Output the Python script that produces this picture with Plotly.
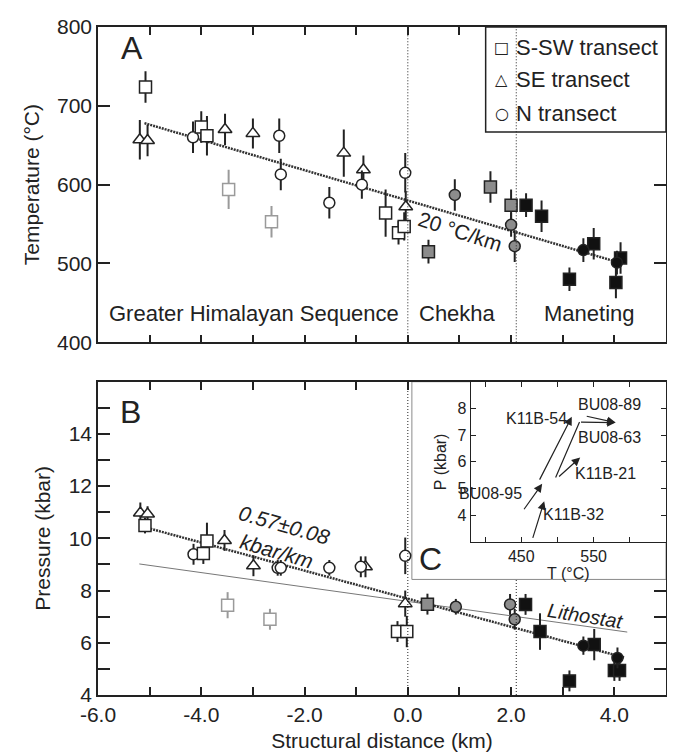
import plotly.graph_objects as go

FONT = "Liberation Sans, Arial, sans-serif"
SYMFONT = "DejaVu Sans, sans-serif"
INK = "#222222"

# ---------------- Panel A : temperature (°C) ----------------
A_SSW_WHITE_X = [-5.08, -4.00, -3.89, -0.43, -0.18, -0.07]
A_SSW_WHITE_T = [724, 673, 662, 564, 539, 547]
A_SSW_WHITE_E = [20, 20, 25, 30, 15, 18]
A_SSW_LIGHT_X = [-3.47, -2.64]
A_SSW_LIGHT_T = [594, 553]
A_SSW_LIGHT_E = [25, 20]
A_SSW_GRAY_X = [0.40, 1.60, 2.00]
A_SSW_GRAY_T = [515, 597, 574]
A_SSW_GRAY_E = [15, 20, 20]
A_SSW_BLACK_X = [2.29, 2.59, 3.13, 3.60, 4.03, 4.12]
A_SSW_BLACK_T = [574, 560, 480, 525, 476, 507]
A_SSW_BLACK_E = [15, 20, 15, 20, 20, 20]
A_SE_X = [-5.19, -5.04, -3.54, -3.00, -1.24, -0.86, -0.04]
A_SE_T = [657, 656, 670, 665, 640, 619, 572]
A_SE_E = [25, 20, 20, 19, 30, 18, 20]
A_N_WHITE_X = [-4.16, -2.49, -2.46, -1.52, -0.89, -0.05]
A_N_WHITE_T = [660, 662, 613, 577, 600, 615]
A_N_WHITE_E = [20, 22, 20, 20, 18, 25]
A_N_GRAY_X = [0.91, 2.00, 2.07]
A_N_GRAY_T = [587, 549, 522]
A_N_GRAY_E = [20, 15, 20]
A_N_BLACK_X = [3.40, 4.05]
A_N_BLACK_T = [517, 501]
A_N_BLACK_E = [15, 15]
A_FIT_X = [-5.1, 4.1]
A_FIT_T = [678, 501]

# ---------------- Panel B : pressure (kbar) ----------------
B_SSW_WHITE_X = [-5.09, -3.89, -3.96, -0.20, -0.02]
B_SSW_WHITE_P = [10.49, 9.90, 9.42, 6.43, 6.43]
B_SSW_WHITE_E = [0.30, 0.70, 0.40, 0.40, 0.60]
B_SSW_LIGHT_X = [-3.49, -2.67]
B_SSW_LIGHT_P = [7.44, 6.90]
B_SSW_LIGHT_E = [0.50, 0.40]
B_SSW_GRAY_X = [0.38]
B_SSW_GRAY_P = [7.48]
B_SSW_GRAY_E = [0.40]
B_SSW_BLACK_X = [2.28, 2.56, 3.13, 3.61, 4.00, 4.10]
B_SSW_BLACK_P = [7.47, 6.43, 4.54, 5.93, 4.94, 4.94]
B_SSW_BLACK_E = [0.40, 0.70, 0.40, 0.60, 0.40, 0.40]
B_SE_X = [-5.18, -5.04, -3.55, -2.99, -0.82, -0.05]
B_SE_P = [10.97, 10.93, 9.92, 8.95, 8.91, 7.50]
B_SE_E = [0.40, 0.30, 0.40, 0.40, 0.40, 0.50]
B_N_WHITE_X = [-4.15, -2.52, -2.46, -1.52, -0.91, -0.05]
B_N_WHITE_P = [9.39, 8.87, 8.87, 8.87, 8.91, 9.33]
B_N_WHITE_E = [0.40, 0.30, 0.30, 0.30, 0.40, 0.70]
B_N_GRAY_X = [0.93, 1.98, 2.07]
B_N_GRAY_P = [7.38, 7.47, 6.90]
B_N_GRAY_E = [0.30, 0.40, 0.40]
B_N_BLACK_X = [3.40, 4.06]
B_N_BLACK_P = [5.89, 5.42]
B_N_BLACK_E = [0.35, 0.40]
B_FIT_X = [-5.1, 4.2]
B_FIT_P = [10.43, 5.43]
LITHO_X = [-5.2, 4.25]
LITHO_P = [9.02, 6.41]

BOUNDARY_X = [0.0, 2.1]
UNIT_NAMES = ["Greater Himalayan Sequence", "Chekha", "Maneting"]
UNIT_X = [-2.97, 0.96, 3.52]
UNIT_T = [436, 436, 436]

LEGEND_NAMES = ["S-SW transect", "SE transect", "N transect"]
LEGEND_GLYPHS = ["□", "△", "○"]

# ---------------- Inset C : P-T paths ----------------
PATH_NAMES = ["K11B-32", "BU08-95", "K11B-54", "K11B-21", "BU08-63", "BU08-89"]
PATH_T0 = [465.3, 452.4, 474.3, 500.2, 530.5, 538.4]
PATH_P0 = [3.10, 4.17, 5.28, 5.40, 7.49, 7.72]
PATH_T1 = [481.7, 478.9, 519.8, 531.4, 580.3, 580.3]
PATH_P1 = [4.53, 5.18, 7.69, 6.16, 7.47, 7.47]
SEG_T0 = [496.6]   # first (headless) leg of BU08-63
SEG_P0 = [5.36]
SEG_T1 = [530.5]
SEG_P1 = [7.49]
LABEL_T = [522, 408, 471, 566, 572, 572]
LABEL_P = [4.04, 4.81, 7.63, 5.55, 6.90, 8.16]

fig = go.Figure()

STY = {
    "white": dict(fill="white", edge=INK, err=INK),
    "light": dict(fill="white", edge="#9a9a9a", err="#9a9a9a"),
    "gray": dict(fill="#8c8c8c", edge=INK, err=INK),
    "black": dict(fill="#111111", edge=INK, err=INK),
}
SYM = {"square": ("square", 12), "tri": ("triangle-up", 12), "circle": ("circle", 11)}


def pts(x, y, e, shape, style, xa, ya):
    s = STY[style]
    sym, size = SYM[shape]
    fig.add_trace(go.Scatter(
        x=x, y=y, mode="markers", xaxis=xa, yaxis=ya,
        marker=dict(symbol=sym, size=size, color=s["fill"],
                    line=dict(color=s["edge"], width=1.5)),
        error_y=dict(type="data", array=e, visible=True, color=s["err"],
                     thickness=2, width=0),
        showlegend=False, hoverinfo="skip", cliponaxis=False))


# fit lines
fig.add_trace(go.Scatter(x=A_FIT_X, y=A_FIT_T, mode="lines", xaxis="x", yaxis="y",
                         line=dict(color="#333", width=2.5, dash="2px,1px"),
                         showlegend=False, hoverinfo="skip"))
fig.add_trace(go.Scatter(x=LITHO_X, y=LITHO_P, mode="lines", xaxis="x2", yaxis="y2",
                         line=dict(color="#777", width=1),
                         showlegend=False, hoverinfo="skip"))
fig.add_trace(go.Scatter(x=B_FIT_X, y=B_FIT_P, mode="lines", xaxis="x2", yaxis="y2",
                         line=dict(color="#333", width=2.5, dash="2px,1px"),
                         showlegend=False, hoverinfo="skip"))

# panel A points
pts(A_SSW_LIGHT_X, A_SSW_LIGHT_T, A_SSW_LIGHT_E, "square", "light", "x", "y")
pts(A_SE_X, A_SE_T, A_SE_E, "tri", "white", "x", "y")
pts(A_N_WHITE_X, A_N_WHITE_T, A_N_WHITE_E, "circle", "white", "x", "y")
pts(A_SSW_WHITE_X, A_SSW_WHITE_T, A_SSW_WHITE_E, "square", "white", "x", "y")
pts(A_SSW_GRAY_X, A_SSW_GRAY_T, A_SSW_GRAY_E, "square", "gray", "x", "y")
pts(A_N_GRAY_X, A_N_GRAY_T, A_N_GRAY_E, "circle", "gray", "x", "y")
pts(A_SSW_BLACK_X, A_SSW_BLACK_T, A_SSW_BLACK_E, "square", "black", "x", "y")
pts(A_N_BLACK_X, A_N_BLACK_T, A_N_BLACK_E, "circle", "black", "x", "y")

# panel B points
pts(B_SSW_LIGHT_X, B_SSW_LIGHT_P, B_SSW_LIGHT_E, "square", "light", "x2", "y2")
pts(B_SE_X, B_SE_P, B_SE_E, "tri", "white", "x2", "y2")
pts(B_N_WHITE_X, B_N_WHITE_P, B_N_WHITE_E, "circle", "white", "x2", "y2")
pts(B_SSW_WHITE_X, B_SSW_WHITE_P, B_SSW_WHITE_E, "square", "white", "x2", "y2")
pts(B_SSW_GRAY_X, B_SSW_GRAY_P, B_SSW_GRAY_E, "square", "gray", "x2", "y2")
pts(B_N_GRAY_X, B_N_GRAY_P, B_N_GRAY_E, "circle", "gray", "x2", "y2")
pts(B_SSW_BLACK_X, B_SSW_BLACK_P, B_SSW_BLACK_E, "square", "black", "x2", "y2")
pts(B_N_BLACK_X, B_N_BLACK_P, B_N_BLACK_E, "circle", "black", "x2", "y2")

# empty traces to anchor helper axes / inset
fig.add_trace(go.Scatter(x=[], y=[], xaxis="x4", yaxis="y2", showlegend=False, hoverinfo="skip"))
fig.add_trace(go.Scatter(x=[], y=[], xaxis="x2", yaxis="y4", showlegend=False, hoverinfo="skip"))
fig.add_trace(go.Scatter(x=[], y=[], xaxis="x3", yaxis="y3", showlegend=False, hoverinfo="skip"))

# ---------------- layout ----------------
YA_DOM = [0.528, 1.0]
YB_DOM = [0.0, 0.469]
INSET_X = [0.656, 1.0]
INSET_Y = [0.229, 0.469]
BOX = dict(x0=0.5526, x1=1.0, y0=0.173, y1=0.469)
LEG_BOX = dict(x0=0.6825, x1=1.0, y0=0.843, y1=1.0)
LEG_ROWS = [0.969, 0.921, 0.871]

tick_font = dict(family=FONT, size=21, color=INK)
XT = list(range(-6, 6))
XT_TEXT = ["%.1f" % v if v % 2 == 0 and v < 5 else "" for v in XT]
YB_T = list(range(4, 16))
YB_TEXT = [str(v) if v % 2 == 0 else "" for v in YB_T]

common = dict(showgrid=False, zeroline=False, showline=True, linecolor=INK, linewidth=1.5,
              ticks="inside", tickcolor=INK, tickwidth=1.5, tickfont=tick_font)

fig.update_layout(
    width=667, height=748,
    margin=dict(l=90, r=7, t=12, b=60),
    paper_bgcolor="white", plot_bgcolor="white",
    font=dict(family=FONT, color=INK),
    showlegend=False,
    xaxis=dict(domain=[0, 1], anchor="y", range=[-6, 5], tickvals=XT, showticklabels=False,
               ticklen=8, mirror="ticks", **common),
    yaxis=dict(domain=YA_DOM, anchor="x", range=[400, 800], tickvals=[400, 500, 600, 700, 800],
               ticklen=12, mirror="ticks",
               title=dict(text="Temperature (°C)", font=dict(family=FONT, size=21, color=INK), standoff=12),
               **common),
    xaxis2=dict(domain=[0, 1], anchor="y2", range=[-6, 5], tickvals=XT, ticktext=XT_TEXT,
                ticklen=8, mirror=True,
                title=dict(text="Structural distance (km)", font=dict(family=FONT, size=21, color=INK), standoff=8),
                **common),
    yaxis2=dict(domain=YB_DOM, anchor="x2", range=[4, 16], tickvals=YB_T, ticktext=YB_TEXT,
                ticklen=12, mirror=True,
                title=dict(text="Pressure (kbar)", font=dict(family=FONT, size=21, color=INK), standoff=12),
                **common),
    xaxis4=dict(overlaying="x2", anchor="y2", side="top", range=[-6, 5], tickvals=[-5, -4, -3, -2, -1, 0],
                showticklabels=False, showline=False, showgrid=False, zeroline=False,
                ticks="inside", ticklen=8, tickcolor=INK, tickwidth=1.5),
    yaxis4=dict(overlaying="y2", anchor="x2", side="right", range=[4, 16], tickvals=[5, 6, 7, 8],
                showticklabels=False, showline=False, showgrid=False, zeroline=False,
                ticks="inside", ticklen=12, tickcolor=INK, tickwidth=1.5),
    xaxis3=dict(domain=INSET_X, anchor="y3", range=[380, 650], tickvals=[400, 450, 500, 550, 600, 650],
                ticktext=["", "450", "", "550", "", ""], showgrid=False, zeroline=False, showline=True,
                linecolor=INK, linewidth=1, ticks="inside", ticklen=5, tickcolor=INK, mirror="ticks",
                tickfont=dict(family=FONT, size=16, color=INK),
                title=dict(text="T (°C)", font=dict(family=FONT, size=16, color=INK), standoff=0)),
    yaxis3=dict(domain=INSET_Y, anchor="x3", range=[3, 9], tickvals=[4, 5, 6, 7, 8],
                showgrid=False, zeroline=False, showline=True, linecolor=INK, linewidth=1,
                ticks="inside", ticklen=5, tickcolor=INK, mirror="ticks",
                tickfont=dict(family=FONT, size=16, color=INK),
                title=dict(text="P (kbar)", font=dict(family=FONT, size=16, color=INK), standoff=6)),
)

# inset white box (under inset traces)
fig.add_shape(type="rect", xref="paper", yref="paper", layer="below",
              fillcolor="white", line=dict(color="#8a8a8a", width=1), **BOX)

# legend box (above panel A ticks / boundary line)
fig.add_shape(type="rect", xref="paper", yref="paper", layer="above",
              fillcolor="white", line=dict(color=INK, width=1.5), **LEG_BOX)
for glyph, name, ry in zip(LEGEND_GLYPHS, LEGEND_NAMES, LEG_ROWS):
    fig.add_annotation(x=0.7105, y=ry, xref="paper", yref="paper", text=glyph, showarrow=False,
                       xanchor="center", yanchor="middle", font=dict(family=SYMFONT, size=16, color=INK))
    fig.add_annotation(x=0.7316, y=ry, xref="paper", yref="paper", text=name, showarrow=False,
                       xanchor="left", yanchor="middle", font=dict(family=FONT, size=22, color=INK))

# boundaries
for bx in BOUNDARY_X:
    fig.add_shape(type="line", xref="x", yref="y domain", x0=bx, x1=bx, y0=0, y1=1,
                  line=dict(color=INK, width=1, dash="1px,2px"))
B_TOP = [1.0, BOX["y0"] / YB_DOM[1]]
for bx, top in zip(BOUNDARY_X, B_TOP):
    fig.add_shape(type="line", xref="x2", yref="y2 domain", x0=bx, x1=bx, y0=0, y1=top,
                  line=dict(color=INK, width=1, dash="1px,2px"))

# unit labels
for name, ux, ut in zip(UNIT_NAMES, UNIT_X, UNIT_T):
    fig.add_annotation(x=ux, y=ut, xref="x", yref="y", text=name, showarrow=False,
                       font=dict(family=FONT, size=22, color=INK))

# gradient labels
fig.add_annotation(x=1.02, y=541, xref="x", yref="y", text="20 °C/km", showarrow=False,
                   textangle=18, font=dict(family=FONT, size=21, color=INK))
fig.add_annotation(x=-2.46, y=10.03, xref="x2", yref="y2", text="<i>0.57±0.08<br>kbar/km</i>",
                   showarrow=False, textangle=16, font=dict(family=FONT, size=21, color=INK))
fig.add_annotation(x=3.45, y=7.02, xref="x2", yref="y2", text="<i>Lithostat</i>", showarrow=False,
                   textangle=9, font=dict(family=FONT, size=20, color=INK))

# panel letters
for letter, px, py in [("A", 0.059, 0.968), ("B", 0.058, 0.423), ("C", 0.586, 0.204)]:
    fig.add_annotation(x=px, y=py, xref="paper", yref="paper", text=letter, showarrow=False,
                       xanchor="center", yanchor="middle",
                       font=dict(family=FONT, size=32, color=INK))

# inset paths
for t0, p0, t1, p1 in zip(SEG_T0, SEG_P0, SEG_T1, SEG_P1):
    fig.add_annotation(x=t1, y=p1, ax=t0, ay=p0, xref="x3", yref="y3", axref="x3", ayref="y3",
                       text="", showarrow=True, arrowhead=0, arrowwidth=1.2, arrowcolor=INK)
for t0, p0, t1, p1 in zip(PATH_T0, PATH_P0, PATH_T1, PATH_P1):
    fig.add_annotation(x=t1, y=p1, ax=t0, ay=p0, xref="x3", yref="y3", axref="x3", ayref="y3",
                       text="", showarrow=True, arrowhead=2, arrowsize=1.4, arrowwidth=1.2,
                       arrowcolor=INK, standoff=0)
for name, lt, lp in zip(PATH_NAMES, LABEL_T, LABEL_P):
    fig.add_annotation(x=lt, y=lp, xref="x3", yref="y3", text=name, showarrow=False,
                       font=dict(family=FONT, size=16, color=INK))

fig.write_html("out.html")
